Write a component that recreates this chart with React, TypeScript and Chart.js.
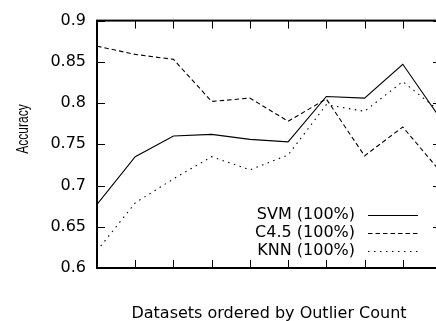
import { useEffect, useRef } from "react";
import { Chart, registerables } from "chart.js";

Chart.register(...registerables);

// ---- data ----
const positions = [0, 1, 2, 3, 4, 5, 6, 7, 8, 9];
const svmValues = [0.677, 0.735, 0.76, 0.762, 0.756, 0.753, 0.808, 0.806, 0.847, 0.78];
const c45Values = [0.869, 0.859, 0.853, 0.802, 0.806, 0.778, 0.805, 0.736, 0.771, 0.716];
const knnValues = [0.621, 0.679, 0.708, 0.735, 0.719, 0.737, 0.798, 0.79, 0.826, 0.789];
const seriesLabels = ["SVM (100%)", "C4.5 (100%)", "KNN (100%)"];
const yTickValues = [0.6, 0.65, 0.7, 0.75, 0.8, 0.85, 0.9];
const xTitle = "Datasets ordered by Outlier Count";
const yTitle = "Accuracy";

const FONT = "'DejaVu Sans', 'Liberation Sans', sans-serif";
const dashes: number[][] = [[], [4.5, 3], [1.5, 4.5]];

const toPoints = (vals: number[]) => positions.map((p, i) => ({ x: p, y: vals[i] }));

export default function App() {
  const ref = useRef<HTMLCanvasElement>(null);

  useEffect(() => {
    const canvas = ref.current!;

    const framePlugin = {
      id: "gnuFrame",
      afterDraw(chart: any) {
        const { ctx, chartArea: a, scales } = chart;
        const xs = scales.x;
        const ys = scales.y;
        ctx.save();
        ctx.strokeStyle = "#000";
        ctx.setLineDash([]);
        // inward tick marks, mirrored
        ctx.lineWidth = 1;
        ctx.beginPath();
        positions.forEach((p) => {
          const px = Math.round(xs.getPixelForValue(p)) + 0.5;
          ctx.moveTo(px, a.bottom);
          ctx.lineTo(px, a.bottom - 8);
          ctx.moveTo(px, a.top);
          ctx.lineTo(px, a.top + 8);
        });
        yTickValues.forEach((v) => {
          const py = Math.round(ys.getPixelForValue(v)) + 0.5;
          ctx.moveTo(a.left, py);
          ctx.lineTo(a.left + 8, py);
          ctx.moveTo(a.right, py);
          ctx.lineTo(a.right - 8, py);
        });
        ctx.stroke();
        // border
        ctx.lineWidth = 2;
        ctx.strokeRect(a.left, a.top, a.right - a.left, a.bottom - a.top);

        // legend (text then line sample)
        const textRight = 355;
        const lineStart = 368;
        const lineEnd = 418;
        const rowY = [215, 233, 251];
        ctx.font = "16px " + FONT;
        ctx.fillStyle = "#000";
        ctx.textAlign = "right";
        ctx.textBaseline = "middle";
        chart.data.datasets.forEach((ds: any, i: number) => {
          ctx.fillText(ds.label, textRight, rowY[i]);
          ctx.lineWidth = 1;
          ctx.setLineDash(ds.borderDash || []);
          ctx.beginPath();
          ctx.moveTo(lineStart, rowY[i] + 0.5);
          ctx.lineTo(lineEnd, rowY[i] + 0.5);
          ctx.stroke();
        });
        ctx.setLineDash([]);

        // y axis title
        ctx.save();
        ctx.translate(23, 129);
        ctx.rotate(-Math.PI / 2);
        ctx.scale(1, 1.4);
        ctx.font = "12px 'Liberation Sans', Arial, sans-serif";
        ctx.textAlign = "center";
        ctx.textBaseline = "middle";
        ctx.fillText(yTitle, 0, 0);
        ctx.restore();

        ctx.restore();
      },
    };

    const chart = new Chart(canvas, {
      type: "line",
      data: {
        datasets: [svmValues, c45Values, knnValues].map((vals, i) => ({
          label: seriesLabels[i],
          data: toPoints(vals),
          borderColor: "#000",
          borderWidth: 1.1,
          borderDash: dashes[i],
          pointRadius: 0,
          tension: 0,
          fill: false,
        })),
      },
      options: {
        responsive: false,
        animation: false,
        devicePixelRatio: 1,
        layout: { padding: { top: 18, right: 4, left: 0, bottom: 0 } },
        plugins: { legend: { display: false }, tooltip: { enabled: false } },
        scales: {
          x: {
            type: "linear",
            min: 0,
            max: 9,
            grid: { display: false, drawTicks: false },
            border: { display: false },
            ticks: { display: false, stepSize: 1 },
            title: {
              display: true,
              text: xTitle,
              color: "#000",
              font: { family: FONT, size: 16, lineHeight: 0.875 },
              padding: { top: 0, bottom: 0 },
            },
            afterFit(s: any) {
              s.height = 53;
            },
          },
          y: {
            type: "linear",
            min: 0.6,
            max: 0.9,
            grid: { display: false, drawTicks: false },
            border: { display: false },
            afterBuildTicks(s: any) {
              s.ticks = yTickValues.map((v) => ({ value: v }));
            },
            ticks: {
              padding: 11,
              color: "#000",
              font: { family: FONT, size: 16 },
              callback: (v: any) => String(parseFloat(Number(v).toFixed(2))),
            },
            afterFit(s: any) {
              s.width = 97;
            },
          },
        },
      },
      plugins: [framePlugin],
    } as any);

    return () => chart.destroy();
  }, []);

  return (
    <div
      style={{
        position: "fixed",
        left: 0,
        top: 0,
        width: 445,
        height: 321,
        overflow: "hidden",
        background: "#fff",
      }}
    >
      <canvas ref={ref} width={445} height={321} style={{ display: "block" }} />
    </div>
  );
}
